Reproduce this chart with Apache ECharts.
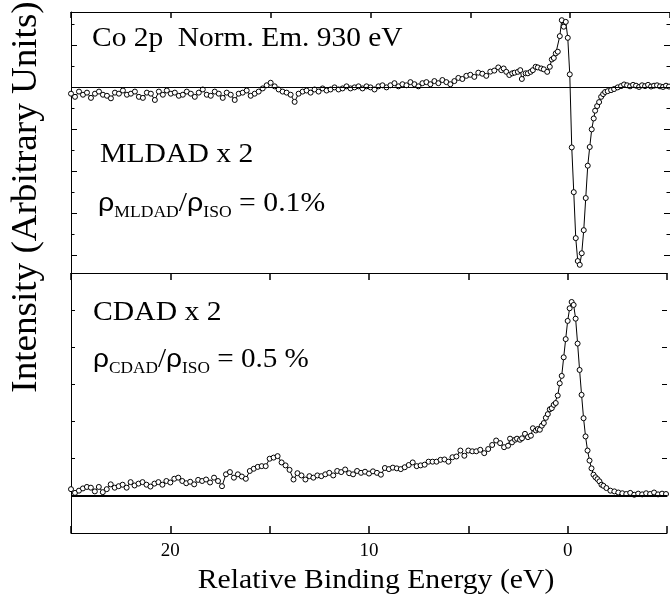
<!DOCTYPE html>
<html>
<head>
<meta charset="utf-8">
<script src="https://cdn.jsdelivr.net/npm/echarts@6/dist/echarts.min.js"></script>
<style>
  html, body { margin: 0; padding: 0; background: #fff; }
  #chart { width: 670px; height: 596px; }
</style>
</head>
<body>
<div id="chart"></div>
<script>
// Co 2p, normal emission 930 eV -- dichroism spectra (x 2)
const xLabels = [20, 10, 0];

const mldadEnergy = [
  25.0, 24.8, 24.6, 24.4, 24.2, 24.0, 23.8, 23.6, 23.4, 23.2,
  23.0, 22.8, 22.6, 22.4, 22.2, 22.0, 21.8, 21.6, 21.4, 21.2,
  21.0, 20.8, 20.6, 20.4, 20.2, 20.0, 19.8, 19.6, 19.4, 19.2,
  19.0, 18.8, 18.6, 18.4, 18.2, 18.0, 17.8, 17.6, 17.4, 17.2,
  17.0, 16.8, 16.6, 16.4, 16.2, 16.0, 15.8, 15.6, 15.4, 15.2,
  15.0, 14.8, 14.6, 14.4, 14.2, 14.0, 13.8, 13.6, 13.4, 13.2,
  13.0, 12.8, 12.6, 12.4, 12.2, 12.0, 11.8, 11.6, 11.4, 11.2,
  11.0, 10.8, 10.6, 10.4, 10.2, 10.0, 9.8, 9.6, 9.4, 9.2,
  9.0, 8.8, 8.6, 8.4, 8.2, 8.0, 7.8, 7.6, 7.4, 7.2,
  7.0, 6.8, 6.6, 6.4, 6.2, 6.0, 5.8, 5.6, 5.4, 5.2,
  5.0, 4.8, 4.6, 4.4, 4.2, 4.0, 3.8, 3.6,
  3.45, 3.33, 3.2, 3.05, 2.9, 2.78, 2.62, 2.5, 2.42, 2.23,
  2.12, 1.98, 1.87, 1.73, 1.62, 1.45, 1.32, 1.15, 1.02, 0.92,
  0.82, 0.72, 0.62, 0.52, 0.42, 0.32, 0.22, 0.12, 0.02, -0.08,
  -0.18, -0.28, -0.38, -0.48, -0.58, -0.68, -0.78, -0.88, -0.98, -1.08,
  -1.18, -1.25, -1.35, -1.45, -1.55, -1.65, -1.75, -1.88, -2.05, -2.2,
  -2.38, -2.55, -2.7, -2.85, -3.0, -3.15, -3.3, -3.45, -3.6, -3.75,
  -3.9, -4.05, -4.2, -4.35, -4.5, -4.65, -4.8, -4.95
];
const mldadIntensity = [
  -0.30, -0.45, -0.20, -0.35, -0.25, -0.50, -0.30, -0.20, -0.35, -0.40,
  -0.52, -0.25, -0.30, -0.15, -0.35, -0.30, -0.20, -0.45, -0.50, -0.25,
  -0.30, -0.60, -0.20, -0.35, -0.15, -0.30, -0.25, -0.40, -0.35, -0.20,
  -0.30, -0.45, -0.25, -0.10, -0.35, -0.40, -0.20, -0.30, -0.50, -0.25,
  -0.35, -0.60, -0.30, -0.25, -0.15, -0.40, -0.30, -0.20, -0.05, 0.10,
  0.22, 0.05, -0.10, -0.20, -0.25, -0.35, -0.69, -0.30, -0.20, -0.15,
  -0.25, -0.10, -0.20, -0.05, -0.15, -0.10, 0.00, -0.10, -0.05, 0.05,
  -0.05, 0.00, 0.05, -0.05, 0.05, 0.00, -0.10, 0.05, 0.10, 0.00,
  0.10, 0.20, 0.05, 0.15, 0.10, 0.25, 0.15, 0.05, 0.20, 0.25,
  0.15, 0.30, 0.20, 0.35, 0.25, 0.15, 0.30, 0.45, 0.40, 0.55,
  0.60, 0.50, 0.70, 0.65, 0.55, 0.75, 0.80, 0.95,
  0.82, 0.90, 0.74, 0.59, 0.67, 0.70, 0.74, 0.82, 0.40, 0.67,
  0.67, 0.74, 0.82, 0.98, 0.95, 0.90, 0.86, 0.74, 0.98, 1.33,
  1.40, 1.62, 1.70, 2.44, 3.20, 2.89, 3.12, 2.36, 0.62, -2.86,
  -4.99, -7.18, -8.27, -8.45, -7.90, -6.80, -5.27, -3.73, -2.84, -2.00,
  -1.48, -1.11, -0.89, -0.70, -0.45, -0.32, -0.22, -0.18, -0.13, -0.08,
  0.00, 0.06, 0.14, 0.10, 0.05, 0.12, 0.08, 0.02, 0.10, 0.06,
  0.12, 0.04, 0.08, 0.10, 0.05, 0.02, 0.08, 0.04
];

const cdadEnergy = [
  25.0, 24.8, 24.6, 24.4, 24.2, 24.0, 23.8, 23.6, 23.4, 23.2,
  23.0, 22.8, 22.6, 22.4, 22.2, 22.0, 21.8, 21.6, 21.4, 21.2,
  21.0, 20.8, 20.6, 20.4, 20.2, 20.0, 19.8, 19.6, 19.4, 19.2,
  19.0, 18.8, 18.6, 18.4, 18.2, 18.0, 17.8, 17.6, 17.4, 17.2,
  17.0, 16.8, 16.6, 16.4, 16.2, 16.0, 15.8, 15.6, 15.4, 15.2,
  15.0, 14.8, 14.6, 14.4, 14.2, 14.0, 13.8, 13.6, 13.4, 13.2,
  13.0, 12.8, 12.6, 12.4, 12.2, 12.0, 11.8, 11.6, 11.4, 11.2,
  11.0, 10.8, 10.6, 10.4, 10.2, 10.0, 9.8, 9.6, 9.4, 9.2,
  9.0, 8.8, 8.6, 8.4, 8.2, 8.0, 7.8, 7.6, 7.4, 7.2,
  7.0, 6.8, 6.6, 6.4, 6.2, 6.0, 5.8, 5.6, 5.4, 5.2,
  5.0, 4.8, 4.6, 4.4, 4.2, 4.0, 3.8, 3.6, 3.4, 3.2,
  3.0, 2.9, 2.8, 2.65, 2.55, 2.4, 2.3, 2.15, 2.0, 1.85,
  1.75, 1.6, 1.5, 1.4, 1.3, 1.2, 1.1, 1.0, 0.9, 0.8,
  0.7, 0.6, 0.5, 0.4, 0.3, 0.2, 0.1, 0.0, -0.1, -0.2,
  -0.3, -0.4, -0.5, -0.6, -0.7, -0.8, -0.9, -1.0, -1.1, -1.2,
  -1.3, -1.4, -1.5, -1.6, -1.7, -1.8, -1.95, -2.15, -2.35, -2.55,
  -2.75, -2.95, -3.15, -3.35, -3.55, -3.75, -3.95, -4.15, -4.35, -4.55,
  -4.75, -4.95
];
const cdadIntensity = [
  0.18, 0.08, 0.14, 0.20, 0.24, 0.22, 0.12, 0.24, 0.10, 0.18,
  0.31, 0.22, 0.26, 0.30, 0.22, 0.37, 0.28, 0.33, 0.37, 0.30,
  0.25, 0.33, 0.37, 0.30, 0.40, 0.36, 0.46, 0.49, 0.40, 0.34,
  0.38, 0.31, 0.43, 0.40, 0.44, 0.36, 0.49, 0.40, 0.26, 0.58,
  0.64, 0.49, 0.58, 0.52, 0.46, 0.67, 0.73, 0.78, 0.80, 0.80,
  1.00, 1.03, 1.07, 0.90, 0.82, 0.70, 0.44, 0.61, 0.55, 0.44,
  0.53, 0.49, 0.55, 0.53, 0.58, 0.62, 0.55, 0.67, 0.64, 0.71,
  0.61, 0.58, 0.67, 0.62, 0.65, 0.60, 0.66, 0.62, 0.57, 0.75,
  0.72, 0.76, 0.74, 0.72, 0.77, 0.83, 0.90, 0.80, 0.82, 0.84,
  0.92, 0.92, 0.92, 0.97, 0.98, 0.92, 1.04, 1.06, 1.22, 1.08,
  1.22, 1.20, 1.20, 1.24, 1.15, 1.26, 1.37, 1.49, 1.42, 1.31,
  1.35, 1.54, 1.44, 1.51, 1.54, 1.51, 1.55, 1.67, 1.58, 1.62,
  1.82, 1.76, 1.80, 1.78, 1.89, 1.96, 2.10, 2.20, 2.33, 2.36,
  2.45, 2.50, 2.70, 3.03, 3.23, 3.73, 4.22, 4.71, 5.05, 5.22,
  5.14, 4.77, 4.10, 3.39, 2.72, 2.09, 1.60, 1.22, 0.95, 0.74,
  0.57, 0.50, 0.45, 0.39, 0.30, 0.27, 0.21, 0.14, 0.12, 0.09,
  0.07, 0.05, 0.08, 0.03, 0.06, 0.04, 0.07, 0.05, 0.09, 0.04,
  0.06, 0.05
];

const mldadData = mldadEnergy.map((e, i) => [e, mldadIntensity[i]]);
const cdadData = cdadEnergy.map((e, i) => [e, cdadIntensity[i]]);

const serif = '"Liberation Serif", "Times New Roman", serif';
const black = '#000';

const chart = echarts.init(document.getElementById('chart'));

const energyAxis = (grid, pos, extra) => Object.assign({
  type: 'value',
  gridIndex: grid,
  position: pos,
  min: -5,
  max: 25,
  interval: 5,
  inverse: true,
  axisLine: {show: true, onZero: false, lineStyle: {color: black, width: 1}},
  axisTick: {show: true, inside: true, length: 7, lineStyle: {color: black, width: 1.5}},
  axisLabel: {show: false},
  splitLine: {show: false}
}, extra);

const tickAxis = (grid, pos, min, max, interval, len) => ({
  type: 'value',
  gridIndex: grid,
  position: pos,
  min: min,
  max: max,
  interval: interval,
  axisLine: {show: false, onZero: false},
  axisTick: {show: true, inside: true, length: len, lineStyle: {color: black}},
  axisLabel: {show: false},
  splitLine: {show: false}
});

const spectrum = (name, xi, yi, data, baseWidth) => ({
  name: name,
  type: 'line',
  xAxisIndex: xi,
  yAxisIndex: yi,
  data: data,
  symbol: 'circle',
  symbolSize: 5,
  showAllSymbol: true,
  lineStyle: {color: black, width: 1},
  itemStyle: {color: '#fff', borderColor: black, borderWidth: 1},
  markLine: {
    silent: true,
    symbol: 'none',
    label: {show: false},
    lineStyle: {color: black, width: baseWidth, type: 'solid'},
    data: [{yAxis: 0}]
  },
  z: 3
});

const textEl = (x, y, text, size, sx, align) => ({
  type: 'text', x: x, y: y, scaleX: sx,
  style: {text: text, font: size + 'px ' + serif, fill: black, align: align, verticalAlign: 'middle'}
});

const ratioEl = (x, y, sub, rest, sx) => ({
  type: 'text', x: x, y: y, scaleX: sx,
  style: {
    text: '{g|ρ}{s|' + sub + '}{r|/}{g|ρ}{s|ISO}{r|' + rest + '}',
    align: 'left', verticalAlign: 'middle',
    rich: {
      r: {fontFamily: serif, fontSize: 27, lineHeight: 34, color: black},
      g: {fontFamily: '"Liberation Sans", sans-serif', fontSize: 26, lineHeight: 34, color: black},
      s: {fontFamily: serif, fontSize: 16, lineHeight: 16, verticalAlign: 'bottom', color: black}
    }
  }
});

const option = {
  animation: false,
  backgroundColor: '#fff',
  grid: [
    {left: 71, top: 12, width: 600, height: 261},
    {left: 71, top: 273, width: 600, height: 260},
    {left: 71, top: 24.3, width: 600, height: 231},
    {left: 71, top: 45.3, width: 600, height: 210}
  ],
  xAxis: [
    energyAxis(0, 'top', {axisTick: {show: true, inside: true, length: 6, lineStyle: {color: black, width: 1.5}}}),
    energyAxis(1, 'bottom', {
      axisLabel: {
        show: true,
        margin: 9,
        color: black,
        fontFamily: serif,
        fontSize: 19,
        formatter: v => (xLabels.includes(v) ? String(v) : '')
      }
    }),
    energyAxis(1, 'top', {}),
    {type: 'value', gridIndex: 2, min: -5, max: 25, show: false},
    {type: 'value', gridIndex: 3, min: -5, max: 25, show: false}
  ],
  yAxis: [
    {
      type: 'value', gridIndex: 0, min: -8.84, max: 3.59, position: 'left',
      axisLine: {show: true, onZero: false, lineStyle: {color: black}},
      axisTick: {show: false}, axisLabel: {show: false}, splitLine: {show: false}
    },
    Object.assign(tickAxis(1, 'left', -1, 6, 1, 4), {axisLine: {show: true, onZero: false, lineStyle: {color: black}}}),
    tickAxis(1, 'right', -1, 6, 1, 5),
    tickAxis(2, 'left', -8, 3, 1, 3.5),
    tickAxis(2, 'right', -8, 3, 1, 3.5),
    tickAxis(3, 'left', -8, 2, 2, 6),
    tickAxis(3, 'right', -8, 2, 2, 6)
  ],
  graphic: [
    {
      type: 'text', x: 27, y: 197, rotation: Math.PI / 2, scaleX: 1.03,
      style: {text: 'Intensity (Arbitrary Units)', font: '36px ' + serif, fill: black, align: 'center', verticalAlign: 'middle'}
    },
    textEl(376, 581, 'Relative Binding Energy (eV)', 27, 1.1, 'center'),
    textEl(92, 39, 'Co 2p  Norm. Em. 930 eV', 27, 1.09, 'left'),
    textEl(100, 155, 'MLDAD x 2', 28, 1.06, 'left'),
    ratioEl(98, 204, 'MLDAD', ' = 0.1%', 1.1),
    textEl(93, 313, 'CDAD x 2', 28, 1.06, 'left'),
    ratioEl(93, 360, 'CDAD', ' = 0.5 %', 1.08)
  ],
  series: [
    spectrum('MLDAD', 0, 0, mldadData, 1),
    spectrum('CDAD', 1, 1, cdadData, 2)
  ]
};

chart.setOption(option);
</script>
</body>
</html>
